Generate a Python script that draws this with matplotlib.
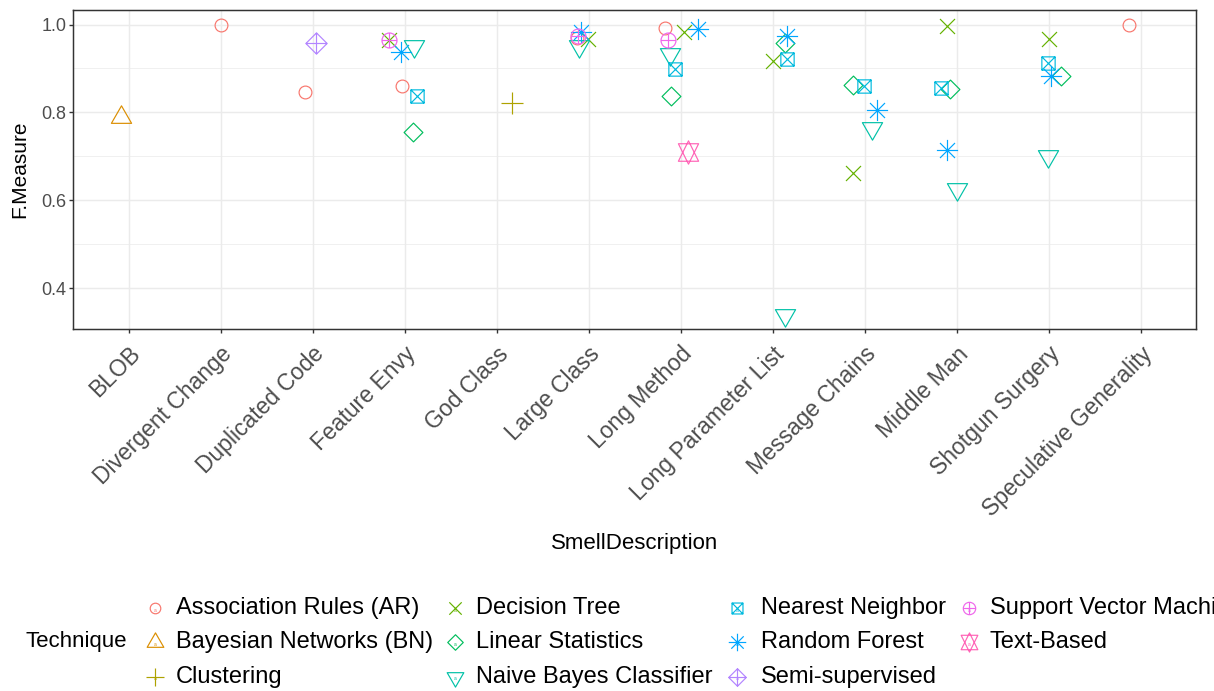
import numpy as np
import matplotlib
matplotlib.use("Agg")
import matplotlib.pyplot as plt
from matplotlib.path import Path
from matplotlib.transforms import Affine2D
from matplotlib.ticker import FixedLocator

plt.rcParams['font.family'] = ['Liberation Sans', 'DejaVu Sans']

# ---------------- data ----------------
smells = ["BLOB", "Divergent Change", "Duplicated Code", "Feature Envy", "God Class",
          "Large Class", "Long Method", "Long Parameter List", "Message Chains",
          "Middle Man", "Shotgun Surgery", "Speculative Generality"]

techniques = ["Association Rules (AR)", "Bayesian Networks (BN)", "Clustering",
              "Decision Tree", "Linear Statistics", "Naive Bayes Classifier",
              "Nearest Neighbor", "Random Forest", "Semi-supervised",
              "Support Vector Machine (SVM)", "Text-Based"]

obs_technique = (["Association Rules (AR)"] * 6 + ["Bayesian Networks (BN)"] + ["Clustering"]
                 + ["Decision Tree"] * 7 + ["Linear Statistics"] * 6
                 + ["Naive Bayes Classifier"] * 7 + ["Nearest Neighbor"] * 6
                 + ["Random Forest"] * 7 + ["Semi-supervised"]
                 + ["Support Vector Machine (SVM)"] * 3 + ["Text-Based"])

obs_smell = [
    # AR
    "Divergent Change", "Duplicated Code", "Feature Envy", "Large Class", "Long Method", "Speculative Generality",
    # BN
    "BLOB",
    # Clustering
    "God Class",
    # DT
    "Feature Envy", "Large Class", "Long Method", "Long Parameter List", "Message Chains", "Middle Man", "Shotgun Surgery",
    # LS
    "Feature Envy", "Long Method", "Long Parameter List", "Message Chains", "Middle Man", "Shotgun Surgery",
    # NB
    "Feature Envy", "Large Class", "Long Method", "Long Parameter List", "Message Chains", "Middle Man", "Shotgun Surgery",
    # NN
    "Feature Envy", "Long Method", "Long Parameter List", "Message Chains", "Middle Man", "Shotgun Surgery",
    # RF
    "Feature Envy", "Large Class", "Long Method", "Long Parameter List", "Message Chains", "Middle Man", "Shotgun Surgery",
    # Semi
    "Duplicated Code",
    # SVM
    "Feature Envy", "Large Class", "Long Method",
    # TB
    "Long Method",
]

obs_fmeasure = [
    1.000, 0.846, 0.860, 0.970, 0.991, 1.000,
    0.790,
    0.822,
    0.965, 0.966, 0.982, 0.917, 0.662, 0.997, 0.967,
    0.756, 0.837, 0.957, 0.863, 0.854, 0.884,
    0.952, 0.952, 0.933, 0.340, 0.764, 0.625, 0.700,
    0.837, 0.899, 0.921, 0.861, 0.855, 0.912,
    0.937, 0.982, 0.989, 0.975, 0.805, 0.714, 0.884,
    0.959,
    0.965, 0.973, 0.965,
    0.711,
]

# horizontal jitter (category units)
obs_jitter = [
    0.01, -0.08, -0.03, -0.12, -0.17, -0.12,
    -0.08,
    0.17,
    -0.17, -0.01, 0.04, 0.01, -0.13, -0.10, 0.01,
    0.09, -0.10, 0.14, -0.12, -0.07, 0.14,
    0.10, -0.10, -0.11, 0.14, 0.08, 0.00, -0.01,
    0.14, -0.06, 0.16, -0.01, -0.17, -0.01,
    -0.04, -0.08, 0.19, 0.16, 0.14, -0.10, 0.03,
    0.04,
    -0.17, -0.11, -0.14,
    0.08,
]

colors = ['#F8766D', '#DB8E00', '#AEA200', '#64B200', '#00BD5C', '#00C1A7',
          '#00BADE', '#00A6FF', '#B385FF', '#EF67EB', '#FF63B6']

# ---------------- R-like point shapes ----------------
def segs(*lines):
    v, c = [], []
    for ln in lines:
        for i, p in enumerate(ln):
            v.append(p)
            c.append(Path.MOVETO if i == 0 else Path.LINETO)
    return Path(v, c)

def poly(pts):
    v = list(pts) + [pts[0]]
    c = [Path.MOVETO] + [Path.LINETO] * (len(pts) - 1) + [Path.CLOSEPOLY]
    return Path(v, c)

def circ(r):
    return Path.unit_circle().transformed(Affine2D().scale(r))

R_CIRC = 0.32
tri_up = poly([(0, 0.583), (0.505, -0.292), (-0.505, -0.292)])
tri_dn = poly([(0, -0.583), (0.505, 0.292), (-0.505, 0.292)])
plus = segs([(-0.53, 0), (0.53, 0)], [(0, -0.53), (0, 0.53)])
cross = segs([(-0.375, -0.375), (0.375, 0.375)], [(-0.375, 0.375), (0.375, -0.375)])
diamond = poly([(0, 0.47), (0.47, 0), (0, -0.47), (-0.47, 0)])
sq = 0.332
square_x = Path.make_compound_path(
    poly([(-sq, -sq), (sq, -sq), (sq, sq), (-sq, sq)]),
    segs([(-sq, -sq), (sq, sq)], [(-sq, sq), (sq, -sq)]))
asterisk = Path.make_compound_path(
    cross, segs([(-0.53, 0), (0.53, 0)], [(0, -0.53), (0, 0.53)]))
diamond_plus = Path.make_compound_path(
    poly([(0, 0.53), (0.53, 0), (0, -0.53), (-0.53, 0)]),
    segs([(-0.53, 0), (0.53, 0)], [(0, -0.53), (0, 0.53)]))
circle_plus = Path.make_compound_path(
    circ(0.375), segs([(-0.375, 0), (0.375, 0)], [(0, -0.375), (0, 0.375)]))
star_david = Path.make_compound_path(
    poly([(0, -0.583), (0.505, 0.4375), (-0.505, 0.4375)]),
    poly([(0, 0.583), (0.505, -0.4375), (-0.505, -0.4375)]))

shapes = [('o', R_CIRC), (tri_up, 0.583), (plus, 0.53), (cross, 0.375), (diamond, 0.47),
          (tri_dn, 0.583), (square_x, 0.332), (asterisk, 0.53), (diamond_plus, 0.53),
          (circle_plus, 0.375), (star_david, 0.583)]

DPI = 100
PX2PT = 72.0 / DPI

def msize(maxabs, unit_px):
    return 2 * maxabs * unit_px * PX2PT

# ---------------- figure ----------------
fig = plt.figure(figsize=(12.14, 6.91), dpi=DPI)
W, H = 1214, 691
ax = fig.add_axes([73.3 / W, 1 - 329.3 / H, (1195.7 - 73.3) / W, (329.3 - 10) / H])

obs_x = np.array([smells.index(s) for s in obs_smell], dtype=float) + np.array(obs_jitter)
obs_y = np.array(obs_fmeasure)
obs_t = np.array(obs_technique)

U_PLOT = 20.0
for ti, tech in enumerate(techniques):
    m = obs_t == tech
    mk, ma = shapes[ti]
    ax.plot(obs_x[m], obs_y[m], linestyle='none', marker=mk,
            markersize=msize(ma, U_PLOT), markerfacecolor='none',
            markeredgecolor=colors[ti], markeredgewidth=0.85, zorder=3)

ymin, ymax = obs_y.min(), obs_y.max()
pad = (ymax - ymin) * 0.05
ax.set_ylim(ymin - pad, ymax + pad)
ax.set_xlim(-0.6, len(smells) - 1 + 0.6)

ax.set_xticks(range(len(smells)))
ax.set_xticklabels(smells, rotation=45, ha='right', va='top', rotation_mode='anchor',
                   fontsize=16.5, color='#4D4D4D')
yt = [0.4, 0.6, 0.8, 1.0]
ax.set_yticks(yt)
ax.set_yticklabels([f"{v:.1f}" for v in yt], fontsize=13, color='#4D4D4D')
ax.yaxis.set_minor_locator(FixedLocator([0.3, 0.5, 0.7, 0.9]))
ax.tick_params(axis='both', which='major', length=2.9, width=1.0, color='#333333')
ax.tick_params(axis='x', which='major', pad=6.5)
ax.tick_params(axis='y', which='major', pad=2.2)
ax.tick_params(axis='y', which='minor', length=0)

ax.grid(True, which='major', color='#EBEBEB', linewidth=1.07, zorder=0)
ax.grid(True, which='minor', axis='y', color='#EBEBEB', linewidth=0.53, zorder=0)
ax.set_axisbelow(True)
for sp in ax.spines.values():
    sp.set_color('#333333')
    sp.set_linewidth(1.07)

ax.set_ylabel('F.Measure', fontsize=15, color='black')
ax.yaxis.set_label_coords((29.5 - 73.3) / (1195.7 - 73.3), 0.5)
fig.text(634.5 / W, 1 - 543 / H, 'SmellDescription', fontsize=16, ha='center', va='center')

# ---------------- legend ----------------
lg = fig.add_axes([0, 0, 1, 1], zorder=-1)
lg.set_xlim(0, W)
lg.set_ylim(H, 0)
lg.axis('off')
lg.text(25, 642, 'Technique', fontsize=16, ha='left', va='center')
col_mk = [155, 455, 737, 969]
col_tx = [176, 476, 761, 990]
row_y = [608, 642, 677]
U_LEG = 16.5
for ti, tech in enumerate(techniques):
    c, r = divmod(ti, 3)
    mk, ma = shapes[ti]
    lg.plot([col_mk[c]], [row_y[r]], linestyle='none', marker=mk,
            markersize=msize(ma, U_LEG), markerfacecolor='none',
            markeredgecolor=colors[ti], markeredgewidth=0.85)
    lg.text(col_mk[c], row_y[r] + 2, 'a', fontsize=3.5, color=colors[ti],
            ha='center', va='center')
    lg.text(col_tx[c], row_y[r], tech, fontsize=17.0, ha='left', va='center', color='black')

fig.savefig('out.png', dpi=DPI)
